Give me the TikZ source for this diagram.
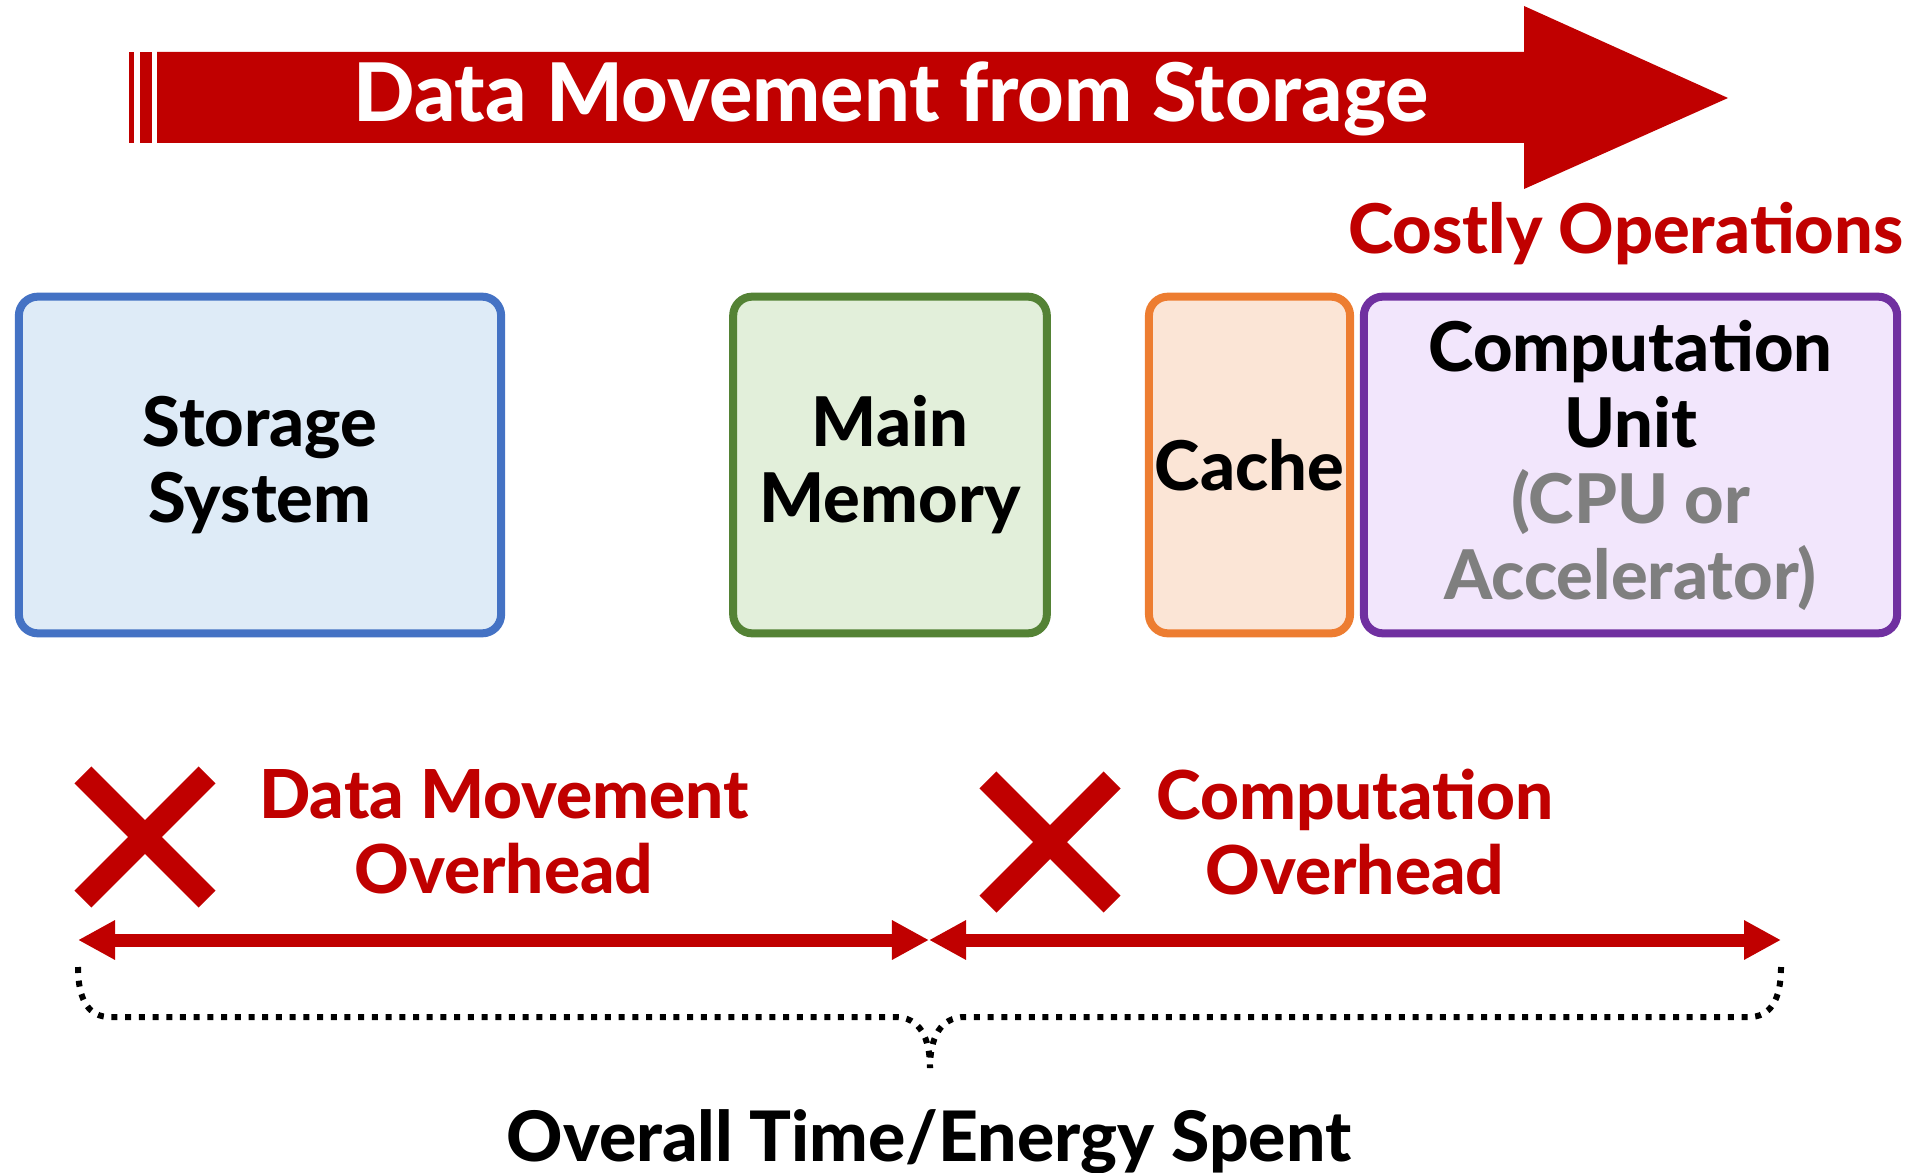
\documentclass[tikz,border=0pt]{standalone}
\usepackage{fontspec}
\setmainfont{Lato}[BoldFont={Lato Heavy}]
\usetikzlibrary{arrows.meta,shapes.misc}

\definecolor{costred}{HTML}{C00000}
\definecolor{storeblue}{HTML}{4472C4}
\definecolor{storefill}{HTML}{DEEBF7}
\definecolor{memgreen}{HTML}{548235}
\definecolor{memfill}{HTML}{E2EFDA}
\definecolor{cacheorange}{HTML}{ED7D31}
\definecolor{cachefill}{HTML}{FBE5D6}
\definecolor{cpupurple}{HTML}{7030A0}
\definecolor{cpufill}{HTML}{F2E6FC}
\definecolor{notegray}{HTML}{7F7F7F}

\begin{document}
\begin{tikzpicture}[x=0.01cm,y=-0.01cm,>={Triangle[length=3.7mm,width=3.7mm]},
    unit/.style={draw,line width=0.8mm,rounded corners=1.9mm,inner sep=0pt,
        minimum height=33.65mm,align=center,
        font=\fontsize{19.5}{21.6}\selectfont\bfseries},
    redtext/.style={text=costred,align=center,font=\fontsize{19.2}{21.3}\selectfont\bfseries},
    cross/.style={cross out,draw=costred,line width=2.4mm,minimum size=12.4mm,inner sep=0pt,outer sep=0pt},
    span/.style={<->,line width=1.3mm,costred},
    brace/.style={line width=0.6mm,dash pattern=on 0.6mm off 0.77mm}]
    \useasboundingbox (0,0) rectangle (1921,1173);

    % flow arrow
    \fill[costred] (157,52) -- (1524,52) -- (1524,6) -- (1728,98) -- (1524,189) -- (1524,143) -- (157,143) -- cycle;
    \fill[costred] (129,52) rectangle (134,143);
    \fill[costred] (140,52) rectangle (152,143);
    \node[anchor=base,text=white,font=\fontsize{23}{26}\selectfont\bfseries] (flow) at (891,122) {Data Movement from Storage};
    \node[anchor=base,text=costred,font=\fontsize{19.5}{22}\selectfont\bfseries] (costly) at (1626,253) {Costly Operations};

    % units
    \node[unit,draw=storeblue,fill=storefill,minimum width=48.2mm] (storage) at (260,465) {Storage\\System};
    \node[unit,draw=memgreen,fill=memfill,minimum width=31.35mm] (memory) at (890,465) {Main\\Memory};
    \node[unit,draw=cacheorange,fill=cachefill,minimum width=20.1mm] (cache) at (1249.5,465) {Cache};
    \node[unit,draw=cpupurple,fill=cpufill,minimum width=53.3mm] (cpu) at (1630.5,465) {Computation\\Unit\\\textcolor{notegray}{(CPU or}\\\textcolor{notegray}{Accelerator)}};

    % overheads
    \node[cross] (xdata) at (145,837) {};
    \node[cross] (xcomp) at (1050,842) {};
    \node[redtext] (dataover) at (504,832) {Data Movement\\Overhead};
    \node[redtext] (compover) at (1355,832) {Computation\\Overhead};

    \coordinate (spanL) at (78,940);
    \coordinate (spanM) at (929,940);
    \coordinate (spanR) at (1781,940);
    \draw[span] (spanL) -- (spanM);
    \draw[span] (spanM) -- (spanR);

    % brace
    \coordinate (braceL) at (78,967);
    \coordinate (braceM) at (930,1068);
    \coordinate (braceR) at (1781,967);
    \draw[brace] (braceL) .. controls +(0,35) and +(-20,0) .. (110,1017) -- (895,1017) .. controls +(25,0) and +(0,-30) .. (braceM);
    \draw[brace] (braceR) .. controls +(0,35) and +(20,0) .. (1749,1017) -- (965,1017) .. controls +(-25,0) and +(0,-30) .. (braceM);
    \node[anchor=base,font=\fontsize{19.8}{23}\selectfont\bfseries] (overall) at (929,1161) {Overall Time/Energy Spent};
\end{tikzpicture}
\end{document}
